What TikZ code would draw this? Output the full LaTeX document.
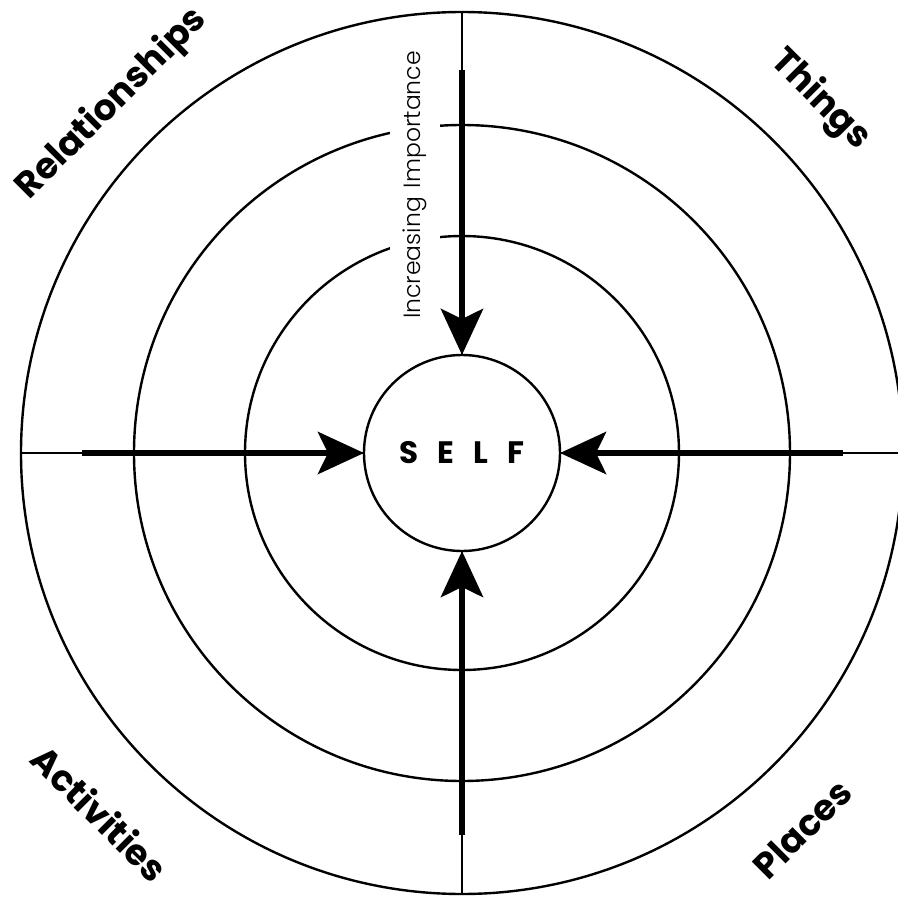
\documentclass[tikz,border=0pt]{standalone}
\usepackage{fontspec}
\setmainfont{Poppins}
\newfontfamily\lightfont{Poppins Light}
\usetikzlibrary{arrows.meta}
\begin{document}
\begin{tikzpicture}[x=1pt,y=1pt,
  ring/.style={circle,draw,line width=2.4pt,inner sep=0pt,outer sep=0pt},
  axis/.style={line width=1.2pt},
  bigarrow/.style={line width=6.5pt,-{Stealth[length=46pt,width=42pt,inset=10pt]}},
  cat/.style={font=\fontsize{36}{36}\selectfont\bfseries,inner sep=0pt}]
\useasboundingbox (-462,-445) rectangle (436,453);
\node[ring,minimum size=882pt] (c1) at (0,0) {};
\node[ring,minimum size=656pt] (c2) at (0,0) {};
\node[ring,minimum size=434pt] (c3) at (0,0) {};
\node[ring,minimum size=196pt,font=\fontsize{31}{31}\selectfont\bfseries] (self) at (0,0) {S\hspace{19pt}E\hspace{19pt}L\hspace{19pt}F};
\draw[axis] (c1.north) -- (self.north);
\draw[axis] (self.south) -- (c1.south);
\draw[axis] (c1.west) -- (self.west);
\draw[axis] (self.east) -- (c1.east);
\node[rotate=90,fill=white,inner xsep=2pt,inner ysep=13pt,font=\lightfont\fontsize{23.5}{23.5}\selectfont] (lbl) at (-47,268) {Increasing\hspace{9pt}Importance};
\coordinate (tt) at (0,383);
\coordinate (tb) at (0,-382);
\coordinate (tl) at (-380,0);
\coordinate (tr) at (381,0);
\draw[bigarrow] (tt) -- (self.north);
\draw[bigarrow] (tb) -- (self.south);
\draw[bigarrow] (tl) -- (self.west);
\draw[bigarrow] (tr) -- (self.east);
\node[cat,rotate=45] (rel) at (-350,349) {Relationships};
\node[cat,rotate=-45] (thi) at (358,353) {Things};
\node[cat,rotate=-45] (act) at (-362,-360) {Activities};
\node[cat,rotate=45] (pla) at (340,-376) {Places};
\end{tikzpicture}
\end{document}
